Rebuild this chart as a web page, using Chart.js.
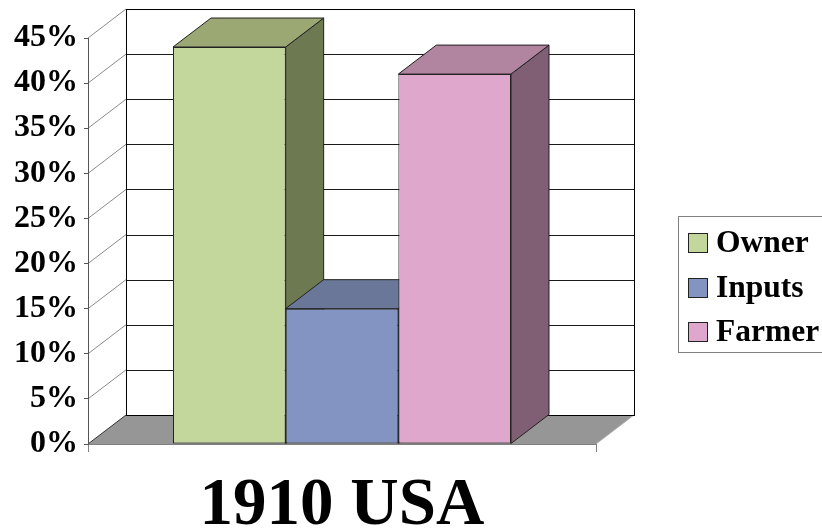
<!DOCTYPE html>
<html>
<head>
<meta charset="utf-8">
<script src="https://cdn.jsdelivr.net/npm/chart.js@4/dist/chart.umd.min.js"></script>
<style>
  html, body { margin: 0; padding: 0; background: #fff; }
  #wrap { width: 822px; height: 532px; }
</style>
</head>
<body>
<div id="wrap"><canvas id="c" width="822" height="532"></canvas></div>
<script>
// Share of the crop, 1910 USA
const categories = ['1910 USA'];
const seriesNames = ['Owner', 'Inputs', 'Farmer'];
const ownerValues = [44];
const inputsValues = [15];
const farmerValues = [41];
const yTicks = [0, 5, 10, 15, 20, 25, 30, 35, 40, 45];

// front / top / side shades per series
const faceColors = [
  { front: '#C3D69B', top: '#9BA874', side: '#6D7950' },
  { front: '#8494C2', top: '#6A7799', side: '#57628A' },
  { front: '#DFA7CB', top: '#B184A0', side: '#805F74' }
];

// projection of the depth axis
const DEPTH_X = 38;
const DEPTH_Y = -29;
const SERIF = '"Liberation Serif", "Times New Roman", serif';

function poly(ctx, pts, fill, stroke) {
  ctx.beginPath();
  ctx.moveTo(pts[0][0], pts[0][1]);
  for (let i = 1; i < pts.length; i++) ctx.lineTo(pts[i][0], pts[i][1]);
  ctx.closePath();
  if (fill) { ctx.fillStyle = fill; ctx.fill(); }
  if (stroke) { ctx.strokeStyle = stroke; ctx.lineWidth = 1; ctx.stroke(); }
}

function line(ctx, x1, y1, x2, y2, color) {
  ctx.beginPath();
  ctx.moveTo(x1, y1);
  ctx.lineTo(x2, y2);
  ctx.strokeStyle = color;
  ctx.lineWidth = 1;
  ctx.stroke();
}

const depthPlugin = {
  id: 'depth3d',
  beforeDraw(chart) {
    const ctx = chart.ctx;
    const { left, right, bottom } = chart.chartArea;
    const y = chart.scales.y;
    const dx = DEPTH_X, dy = DEPTH_Y;
    const topV = y.getPixelForValue(yTicks[yTicks.length - 1]);
    ctx.save();

    // back wall
    const bl = Math.round(left + dx) + 0.5;
    const br = Math.round(right + dx) + 0.5;
    const bt = Math.round(topV + dy) + 0.5;
    const bb = Math.round(bottom + dy) + 0.5;
    ctx.fillStyle = '#fff';
    ctx.fillRect(bl, bt, br - bl, bb - bt);

    // floor
    poly(ctx, [[left, bottom], [right, bottom], [right + dx, bottom + dy], [left + dx, bottom + dy]], '#969696', null);
    line(ctx, right, bottom, right + dx, bottom + dy, '#b0b0b0');

    // gridlines on back wall and side wall
    yTicks.forEach(v => {
      const py = y.getPixelForValue(v);
      const gy = Math.round(py + dy) + 0.5;
      if (v > 0 && v < yTicks[yTicks.length - 1]) line(ctx, bl, gy, br, gy, '#1a1a1a');
      line(ctx, left, py, left + dx, py + dy, v === 0 ? '#333' : '#8a8a8a');
    });
    ctx.strokeStyle = '#000';
    ctx.lineWidth = 1;
    ctx.strokeRect(bl, bt, br - bl, bb - bt);

    // depth faces of the bars
    chart.data.datasets.forEach((ds, i) => {
      const meta = chart.getDatasetMeta(i);
      meta.data.forEach(bar => {
        const p = bar.getProps(['x', 'y', 'base', 'width'], true);
        const L = p.x - p.width / 2, R = p.x + p.width / 2;
        const c = faceColors[i];
        poly(ctx, [[R, p.y], [R + dx, p.y + dy], [R + dx, p.base + dy], [R, p.base]], c.side, '#222');
        poly(ctx, [[L, p.y], [R, p.y], [R + dx, p.y + dy], [L + dx, p.y + dy]], c.top, '#222');
      });
    });
    ctx.restore();
  },
  afterDraw(chart) {
    // legend box
    const ctx = chart.ctx;
    ctx.save();
    ctx.strokeStyle = '#808080';
    ctx.lineWidth = 1;
    ctx.strokeRect(678.5, 216.5, 160, 136);
    ctx.font = 'bold 31.5px ' + SERIF;
    ctx.textBaseline = 'middle';
    ctx.textAlign = 'left';
    chart.data.datasets.forEach((ds, i) => {
      const cy = 243 + i * 44.5;
      ctx.fillStyle = ds.backgroundColor;
      ctx.fillRect(688.5, Math.round(cy - 10) + 0.5, 19, 19);
      ctx.strokeStyle = '#222';
      ctx.strokeRect(688.5, Math.round(cy - 10) + 0.5, 19, 19);
      ctx.fillStyle = '#000';
      ctx.fillText(ds.label, 716, cy + 1);
    });
    ctx.restore();
  }
};

const seriesValues = [ownerValues, inputsValues, farmerValues];

new Chart(document.getElementById('c'), {
  type: 'bar',
  data: {
    labels: categories,
    datasets: seriesNames.map((name, i) => ({
      label: name,
      data: seriesValues[i],
      backgroundColor: faceColors[i].front,
      borderColor: '#222',
      borderWidth: 1,
      borderSkipped: false,
      categoryPercentage: 0.6654,
      barPercentage: 1
    }))
  },
  options: {
    responsive: false,
    animation: false,
    devicePixelRatio: 1,
    layout: { padding: { top: 38, right: 226, left: 0, bottom: 0 } },
    plugins: { legend: { display: false }, tooltip: { enabled: false } },
    scales: {
      x: {
        offset: true,
        grid: { drawOnChartArea: false, offset: true, tickLength: 8, color: '#808080' },
        border: { color: '#808080', width: 1 },
        ticks: {
          color: '#000',
          padding: 14,
          font: { family: SERIF, size: 67, weight: 'bold' }
        },
        afterFit(scale) { scale.height = 88; }
      },
      y: {
        min: 0,
        max: 45,
        afterBuildTicks(scale) { scale.ticks = yTicks.map(v => ({ value: v })); },
        grid: { drawOnChartArea: false, tickLength: 4, color: '#555' },
        border: { color: '#555', width: 1 },
        ticks: {
          color: '#000',
          padding: 6,
          font: { family: SERIF, size: 32, weight: 'bold' },
          callback: v => v + '%'
        },
        afterFit(scale) { scale.width = 88; }
      }
    }
  },
  plugins: [depthPlugin]
});
</script>
</body>
</html>
